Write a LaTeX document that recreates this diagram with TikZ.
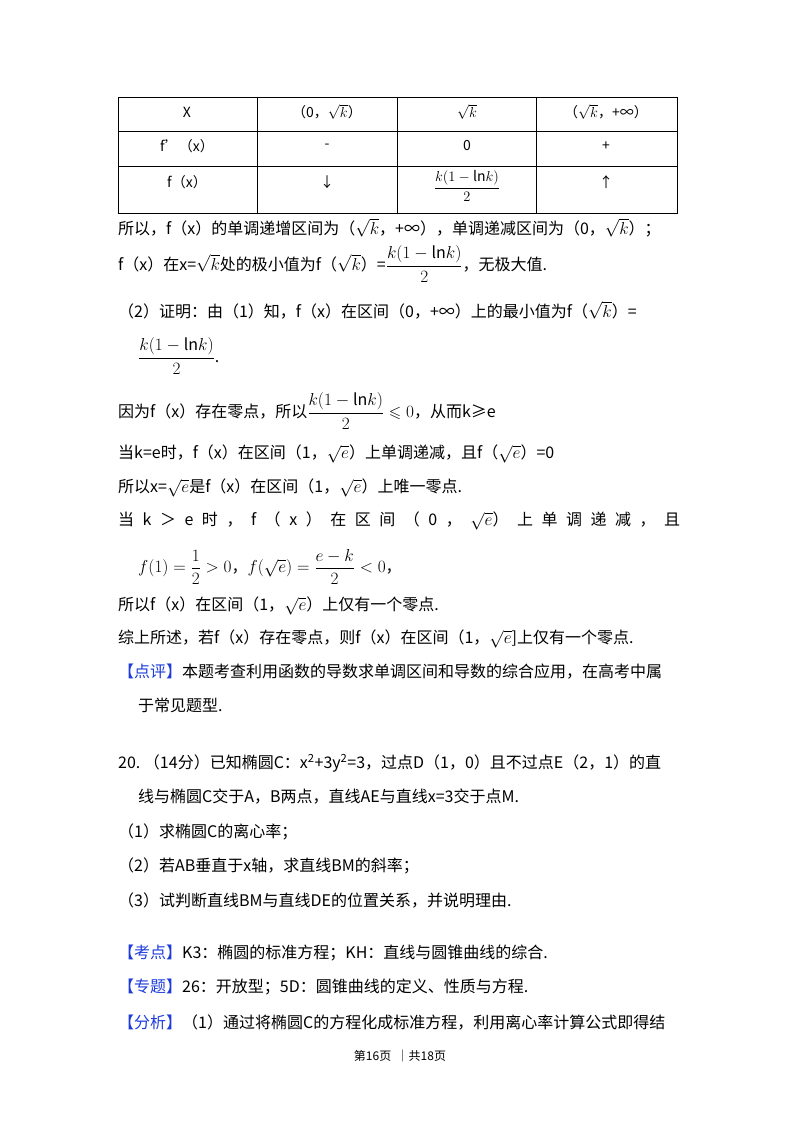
\documentclass[tikz,border=0pt]{standalone}
\usepackage{amsmath,amssymb}
\usepackage{fontspec}
\setmainfont{Noto Sans CJK SC}
\definecolor{hd}{RGB}{30,60,220}
\begin{document}
\begin{tikzpicture}[x=1pt,y=-1pt,
  ln/.style={anchor=west,inner sep=0pt,font=\fontsize{16}{19}\selectfont},
  cell/.style={inner sep=0pt,font=\fontsize{14}{17}\selectfont}]
\useasboundingbox[fill=white] (0,0) rectangle (800,1132);
% table
\draw[line width=0.8pt] (118,97) rectangle (677,213);
\foreach \y in {131,166} \draw[line width=0.8pt] (118,\y) -- (677,\y);
\foreach \x in {257,397,536} \draw[line width=0.8pt] (\x,97) -- (\x,213);
\node[cell] (c11) at (187,112) {X};
\node[cell] (c12) at (327,112) {（0，$\sqrt{k}$）};
\node[cell] (c13) at (467,112) {$\sqrt{k}$};
\node[cell] (c14) at (606,112) {（$\sqrt{k}$，+∞）};
\node[cell] (c21) at (187,146) {f'（x）};
\node[cell] (c22) at (327,146) {-};
\node[cell] (c23) at (467,146) {0};
\node[cell] (c24) at (606,146) {+};
\node[cell] (c31) at (187,182) {f（x）};
\node[cell] (c32) at (327,182) {↓};
\node[cell] (c33) at (467,186) {$\dfrac{k(1-\mathrm{ln}k)}{2}$};
\node[cell] (c34) at (606,182) {↑};
% text
\node[ln] (l1) at (118,228) {所以，f（x）的单调递增区间为（$\sqrt{k}$，+∞），单调递减区间为（0，$\sqrt{k}$）；};
\node[ln] (l2) at (118,264) {f（x）在x=$\sqrt{k}$处的极小值为f（$\sqrt{k}$）=$\dfrac{k(1-\mathrm{ln}k)}{2}$，无极大值.};
\node[ln] (l3) at (118,310) {（2）证明：由（1）知，f（x）在区间（0，+∞）上的最小值为f（$\sqrt{k}$）=};
\node[ln] (l4) at (138,356) {$\dfrac{k(1-\mathrm{ln}k)}{2}$.};
\node[ln] (l5) at (118,411) {因为f（x）存在零点，所以$\dfrac{k(1-\mathrm{ln}k)}{2}\leqslant 0$，从而k≥e};
\node[ln] (l6) at (118,454) {当k=e时，f（x）在区间（1，$\sqrt{e}$）上单调递减，且f（$\sqrt{e}$）=0};
\node[ln] (l7) at (118,488) {所以x=$\sqrt{e}$是f（x）在区间（1，$\sqrt{e}$）上唯一零点.};
\node[ln] (l8) at (118,521) {\makebox[562pt][s]{当 k ＞ e 时 ， f （ x ） 在 区 间 （ 0 ， $\sqrt{e}$） 上 单 调 递 减 ， 且}};
\node[ln] (l9) at (138,567) {$f(1)=\dfrac{1}{2}>0$，$f(\sqrt{e})=\dfrac{e-k}{2}<0$，};
\node[ln] (l10) at (118,606) {所以f（x）在区间（1，$\sqrt{e}$）上仅有一个零点.};
\node[ln] (l11) at (118,639) {综上所述，若f（x）存在零点，则f（x）在区间（1，$\sqrt{e}$]上仅有一个零点.};
\node[ln] (l12) at (118,672) {\textcolor{hd}{【点评】}本题考查利用函数的导数求单调区间和导数的综合应用，在高考中属};
\node[ln] (l13) at (138,705) {于常见题型.};
\node[ln] (l14) at (118,763) {20.\ （14分）已知椭圆C：x\textsuperscript{2}+3y\textsuperscript{2}=3，过点D（1，0）且不过点E（2，1）的直};
\node[ln] (l15) at (138,797) {线与椭圆C交于A，B两点，直线AE与直线x=3交于点M.};
\node[ln] (l16) at (118,832) {（1）求椭圆C的离心率；};
\node[ln] (l17) at (118,866) {（2）若AB垂直于x轴，求直线BM的斜率；};
\node[ln] (l18) at (118,900) {（3）试判断直线BM与直线DE的位置关系，并说明理由.};
\node[ln] (l19) at (118,953) {\textcolor{hd}{【考点】}K3：椭圆的标准方程；KH：直线与圆锥曲线的综合.};
\node[ln] (l20) at (118,987) {\textcolor{hd}{【专题】}26：开放型；5D：圆锥曲线的定义、性质与方程.};
\node[ln] (l21) at (118,1022) {\textcolor{hd}{【分析】}（1）通过将椭圆C的方程化成标准方程，利用离心率计算公式即得结};
\node[inner sep=0pt,font=\fontsize{12}{14}\selectfont] (ft) at (400,1056) {第16页\ \ ｜共18页};
\end{tikzpicture}
\end{document}
